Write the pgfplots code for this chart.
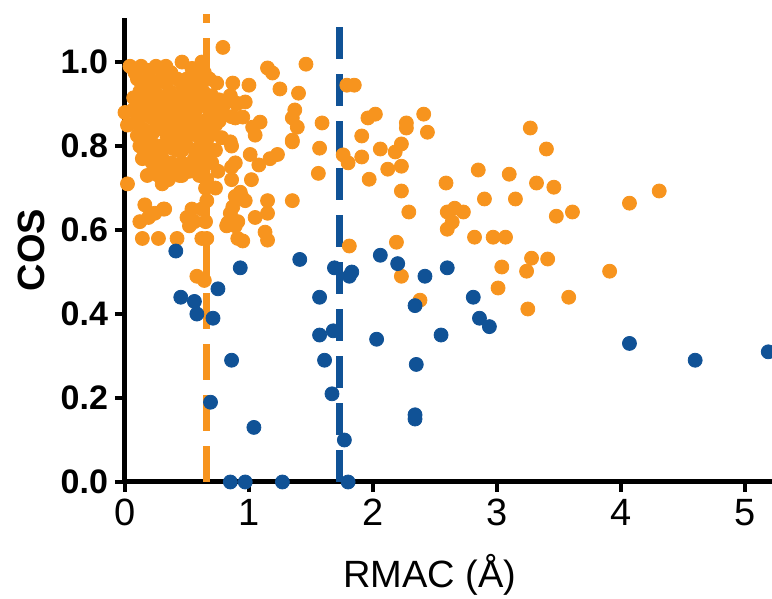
\documentclass[border=0pt]{standalone}
\usepackage{fontspec}
\setmainfont{Liberation Sans}
\usepackage{pgfplots}
\pgfplotsset{compat=1.18}

\definecolor{rorange}{RGB}{247,148,30}
\definecolor{rblue}{RGB}{16,82,150}

\begin{document}
\begin{tikzpicture}
\begin{axis}[
    scale only axis,
    width=323.5pt, height=232pt,
    xmin=0, xmax=5.22,
    ymin=0, ymax=1.105,
    axis lines=left,
    axis line style={line width=2.5pt, -},
    clip=false,
    xtick={0,1,2,3,4,5},
    ytick={0,0.2,0.4,0.6,0.8,1.0},
    tick align=outside,
    major tick length=5pt,
    tick style={line width=2pt, black},
    /pgf/number format/assume math mode=true,
    yticklabel style={font=\fontsize{17}{17}\selectfont\bfseries, /pgf/number format/.cd, fixed, fixed zerofill, precision=1},
    xticklabel style={font=\fontsize{19}{19}\selectfont},
    xlabel={RMAC (Å)},
    ylabel={\textbf{COS}},
    xlabel style={font=\fontsize{19}{19}\selectfont, at={(axis description cs:0.471,-0.2)}, anchor=center},
    ylabel style={font=\fontsize{19}{19}\selectfont, at={(axis description cs:-0.144,0.5)}, anchor=center, rotate=0},
]
% orange group
\addplot[only marks, mark=*, mark size=3.5pt, color=rorange] coordinates {
    (0.04,0.99) (0.13,0.99) (0.25,0.99) (0.33,0.99) (0.46,1.00) (0.62,1.00)
    (0.10,0.96) (0.20,0.96) (0.30,0.97) (0.42,0.96) (0.50,0.96) (0.58,0.97) (0.68,0.96) (0.74,0.95) (0.87,0.95)
    (0.12,0.93) (0.18,0.93) (0.27,0.92) (0.36,0.93) (0.45,0.92) (0.55,0.93) (0.63,0.93) (0.70,0.92) (0.85,0.92) (0.90,0.90)
    (0.10,0.90) (0.16,0.90) (0.24,0.89) (0.32,0.90) (0.40,0.89) (0.50,0.90) (0.58,0.89) (0.66,0.90) (0.73,0.89) (0.80,0.90)
    (0.00,0.88) (0.12,0.87) (0.20,0.87) (0.28,0.86) (0.36,0.87) (0.44,0.86) (0.52,0.87) (0.60,0.86) (0.68,0.87) (0.76,0.86) (0.86,0.87)
    (0.02,0.85) (0.15,0.84) (0.22,0.83) (0.30,0.84) (0.38,0.83) (0.46,0.84) (0.55,0.83) (0.63,0.84) (0.70,0.83) (0.78,0.82)
    (0.12,0.80) (0.18,0.81) (0.26,0.80) (0.34,0.80) (0.42,0.79) (0.50,0.80) (0.57,0.79) (0.66,0.80) (0.73,0.79) (0.85,0.81)
    (0.14,0.77) (0.22,0.76) (0.30,0.77) (0.37,0.76) (0.46,0.76) (0.56,0.77) (0.62,0.76) (0.70,0.76)
    (0.18,0.73) (0.27,0.73) (0.35,0.72) (0.44,0.73) (0.60,0.73) (0.66,0.72) (0.86,0.72) (0.89,0.76)
    (0.08,0.975) (0.19,0.98) (0.37,0.975) (0.54,0.985) (0.64,0.975)
    (0.15,0.945) (0.24,0.945) (0.33,0.95) (0.46,0.945) (0.54,0.95) (0.60,0.945)
    (0.07,0.915) (0.21,0.915) (0.30,0.91) (0.41,0.915) (0.50,0.92) (0.60,0.91) (0.76,0.91)
    (0.06,0.885) (0.16,0.88) (0.28,0.885) (0.45,0.885) (0.55,0.88) (0.70,0.88) (0.80,0.875)
    (0.08,0.855) (0.25,0.855) (0.33,0.85) (0.41,0.855) (0.49,0.85) (0.58,0.85) (0.73,0.85)
    (0.10,0.825) (0.19,0.825) (0.34,0.82) (0.43,0.82) (0.51,0.825) (0.60,0.82) (0.67,0.82)
    (0.16,0.79) (0.30,0.79) (0.38,0.795) (0.46,0.79) (0.61,0.79) (0.69,0.785)
    (0.25,0.75) (0.33,0.745) (0.41,0.75) (0.52,0.74) (0.58,0.755)
    (0.02,0.71) (0.16,0.66) (0.24,0.64) (0.32,0.65) (0.19,0.63) (0.12,0.62) (0.14,0.58) (0.27,0.58) (0.42,0.58)
    (0.30,0.71) (0.34,0.73) (0.27,0.75) (0.22,0.78) (0.46,0.73) (0.50,0.75) (0.54,0.65) (0.50,0.63) (0.52,0.61)
    (0.56,0.62) (0.63,0.73) (0.65,0.70) (0.66,0.67) (0.62,0.65) (0.65,0.62) (0.66,0.58) (0.73,0.70) (0.75,0.74)
    (0.85,0.62) (0.89,0.61) (0.91,0.58) (0.94,0.68) (0.86,0.80) (0.86,0.75) (0.31,0.65) (0.62,0.58)
    (0.58,0.49) (0.64,0.48)
    (1.01,0.78) (1.08,0.755) (1.17,0.77) (1.23,0.78) (1.02,0.72) (1.35,0.81) (1.57,0.795) (1.56,0.735)
    (0.93,0.69) (0.89,0.68) (0.97,0.67) (0.87,0.655) (0.85,0.64) (0.91,0.62) (0.82,0.61)
    (1.15,0.67) (1.35,0.67) (1.05,0.63) (1.15,0.64) (1.13,0.595) (1.15,0.576) (0.95,0.574) (0.83,0.617)
    (0.79,1.035) (1.15,0.986) (1.19,0.974) (1.46,0.995) (1.00,0.945) (1.25,0.936) (1.40,0.926)
    (0.90,0.902) (0.97,0.905) (0.89,0.867) (0.95,0.869) (1.37,0.886) (1.35,0.867) (1.39,0.845)
    (1.09,0.857) (1.03,0.845) (1.05,0.826) (1.35,0.814) (1.59,0.855)
    (1.79,0.945) (1.85,0.945)
    (1.96,0.867) (2.02,0.876) (2.27,0.855) (2.27,0.843) (2.41,0.876) (2.44,0.833)
    (1.91,0.824) (2.06,0.793) (2.18,0.786) (2.23,0.805) (1.91,0.774) (1.76,0.779) (1.80,0.760)
    (2.12,0.745) (2.23,0.752) (1.97,0.721) (2.23,0.693) (2.29,0.643) (2.59,0.712) (2.85,0.743)
    (3.10,0.733) (3.27,0.843) (3.40,0.793) (3.32,0.712) (3.46,0.702) (3.15,0.674) (2.90,0.674)
    (2.60,0.643) (2.66,0.652) (2.73,0.643) (2.64,0.619) (2.60,0.602) (2.82,0.583) (2.97,0.583) (3.07,0.583)
    (3.48,0.633) (3.61,0.643) (4.07,0.664) (4.31,0.693)
    (1.81,0.562) (2.19,0.571) (2.23,0.490) (2.38,0.433) (3.04,0.512) (3.24,0.502) (3.28,0.533) (3.41,0.531)
    (3.01,0.462) (3.25,0.412) (3.58,0.440) (3.91,0.502)
};
% blue group
\addplot[only marks, mark=*, mark size=3.5pt, color=rblue] coordinates {
    (0.41,0.55) (0.45,0.44) (0.56,0.43) (0.58,0.40) (0.71,0.39) (0.75,0.46) (0.93,0.51)
    (0.86,0.29) (0.69,0.19) (1.04,0.13) (0.85,0.0) (0.97,0.0) (1.27,0.0)
    (1.41,0.53) (1.57,0.44) (1.57,0.35) (1.61,0.29) (1.67,0.21) (1.69,0.51) (1.68,0.36)
    (1.77,0.10) (1.80,0.0) (1.83,0.50) (1.81,0.49)
    (2.03,0.34) (2.06,0.54) (2.20,0.52) (2.34,0.42) (2.35,0.28) (2.34,0.16) (2.34,0.15)
    (2.42,0.49) (2.55,0.35) (2.60,0.51) (2.81,0.44) (2.86,0.39) (2.94,0.37)
    (4.07,0.33) (4.60,0.29) (5.19,0.31)
};
% thresholds
\addplot[rorange, line width=3.5pt, dash pattern=on 18pt off 7.5pt] coordinates {(0.655,0) (0.655,1.115)};
\addplot[rblue, line width=3.5pt, dash pattern=on 16pt off 7.5pt] coordinates {(1.728,0) (1.728,1.115)};
\end{axis}
\pgfresetboundingbox
\useasboundingbox (-62.5pt,-58.5pt) rectangle (323.5pt,241pt);
\end{tikzpicture}
\end{document}
